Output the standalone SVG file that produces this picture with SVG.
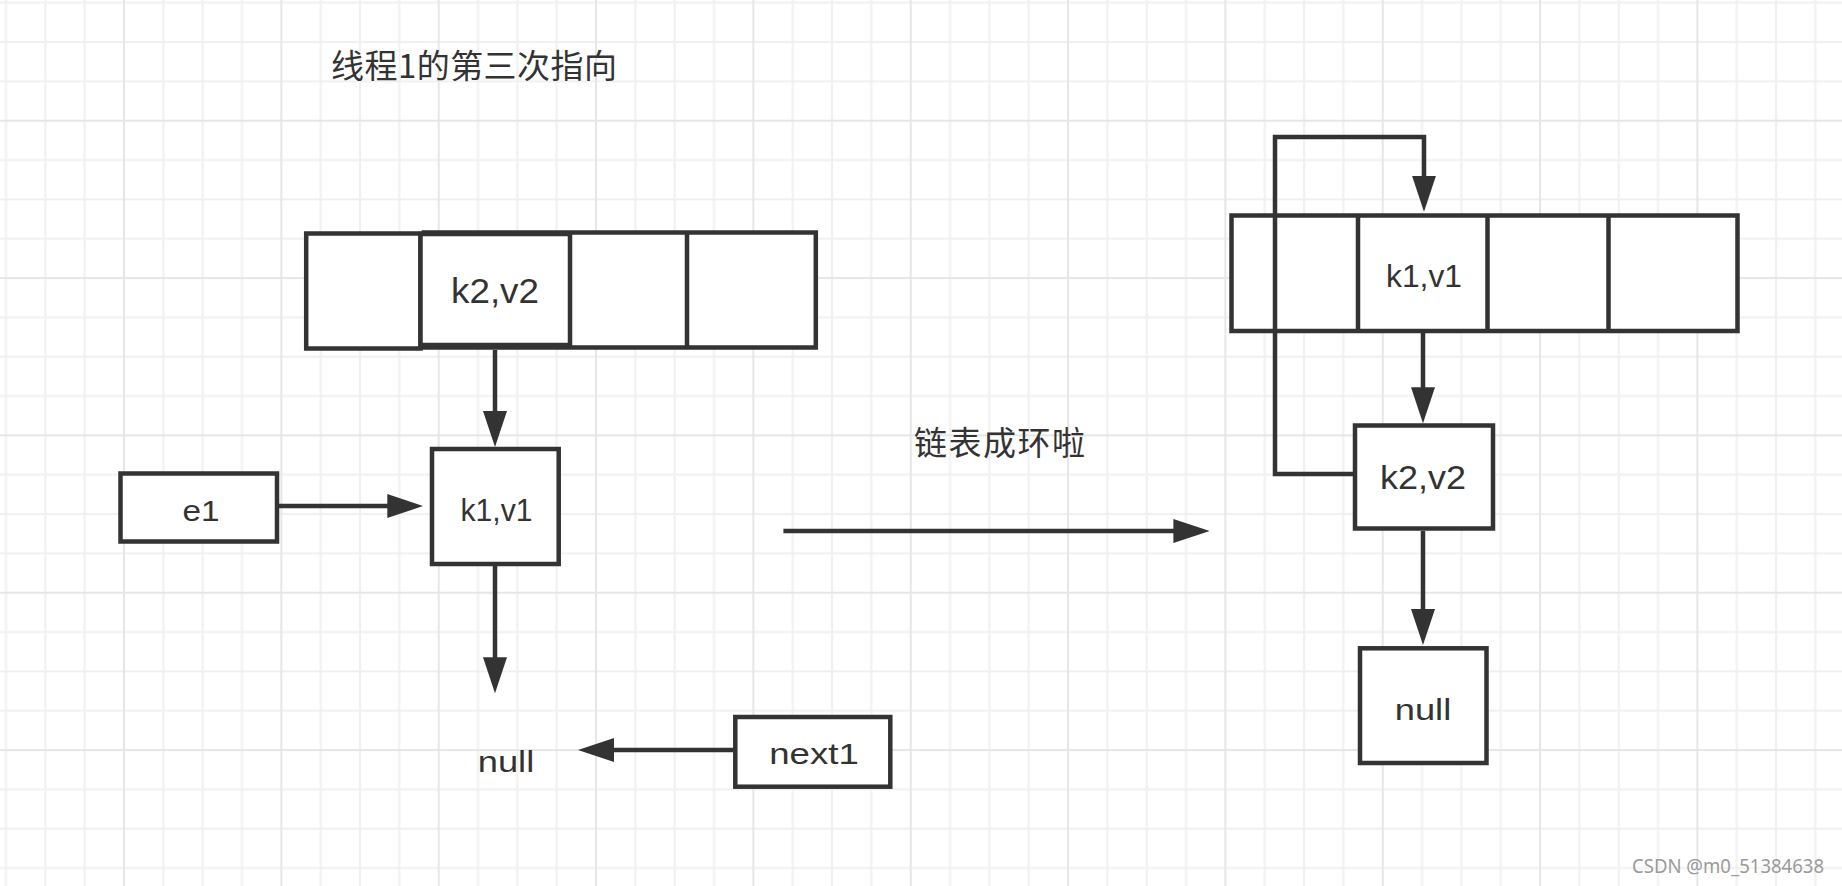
<svg xmlns="http://www.w3.org/2000/svg" width="1842" height="886" viewBox="0 0 1842 886">
  <style>
    .box { fill: #ffffff; stroke: #333333; stroke-width: 4.5; }
    .div { stroke: #333333; stroke-width: 4.5; }
    .lbl { font-family: "Liberation Sans", Arial, Helvetica, sans-serif; fill: #333333; text-anchor: middle; }
    .cjk { font-family: "Noto Sans CJK SC", "Noto Sans", sans-serif; fill: #333333; }
    .conn { fill: none; stroke: #333333; stroke-width: 4.5; stroke-linejoin: miter; }
    .wm { font-family: "Noto Sans", "Open Sans", sans-serif; fill: #9a9a9a; }
  </style>
  <defs>
    <pattern id="grid" patternUnits="userSpaceOnUse" x="-34.34" y="-37.64" width="157.34" height="157.34">
      <rect x="0" y="0" width="157.34" height="157.34" fill="#ffffff"/>
      <g fill="#f0f0f0">
        <rect x="39.33" y="0" width="2" height="157.34"/>
        <rect x="78.67" y="0" width="2" height="157.34"/>
        <rect x="118.0" y="0" width="2" height="157.34"/>
        <rect x="0" y="39.33" width="157.34" height="2"/>
        <rect x="0" y="78.67" width="157.34" height="2"/>
        <rect x="0" y="118.0" width="157.34" height="2"/>
      </g>
      <g fill="#e6e6e6">
        <rect x="0" y="0" width="2" height="157.34"/>
        <rect x="0" y="0" width="157.34" height="2"/>
      </g>
    </pattern>
    <marker id="arr" markerUnits="userSpaceOnUse" viewBox="0 0 36 24" refX="1" refY="12" markerWidth="36" markerHeight="24" orient="auto">
      <path d="M0,0 L36,12 L0,24 Z" fill="#333333"/>
    </marker>
  </defs>

  <rect id="background" x="0" y="0" width="1842" height="886" fill="url(#grid)"/>

  <g id="title">
    <text class="cjk" x="331" y="78" font-size="33" textLength="286">线程1的第三次指向</text>
  </g>

  <g id="left-array">
    <rect class="box" x="424" y="232.5" width="391.8" height="115" stroke-width="5"/>
    <line class="div" x1="687" y1="232.5" x2="687" y2="347.5" stroke-width="5"/>
    <rect class="box" x="306.2" y="233.5" width="114.3" height="115"/>
    <rect class="box" x="420.5" y="234" width="149.5" height="111"/>
    <text class="lbl" x="495" y="303.3" font-size="35" textLength="88" lengthAdjust="spacingAndGlyphs">k2,v2</text>
  </g>

  <g id="node-e1">
    <rect class="box" x="120.5" y="473.5" width="156.5" height="68"/>
    <text class="lbl" x="201" y="521" font-size="30" textLength="37" lengthAdjust="spacingAndGlyphs">e1</text>
  </g>

  <g id="node-k1v1-left">
    <rect class="box" x="432" y="449" width="126.7" height="115"/>
    <text class="lbl" x="496.5" y="521" font-size="30.5" textLength="72" lengthAdjust="spacingAndGlyphs">k1,v1</text>
  </g>

  <g id="node-null-left">
    <text class="lbl" x="506" y="771.7" font-size="30" textLength="56.5" lengthAdjust="spacingAndGlyphs">null</text>
  </g>

  <g id="node-next1">
    <rect class="box" x="735.3" y="717" width="155" height="69.7"/>
    <text class="lbl" x="814" y="764.3" font-size="30" textLength="89.5" lengthAdjust="spacingAndGlyphs">next1</text>
  </g>

  <g id="label-ring">
    <text class="cjk" x="914" y="454.5" font-size="33" textLength="171">链表成环啦</text>
  </g>

  <g id="right-array">
    <rect class="box" x="1231.5" y="215.5" width="506" height="115.5" stroke-width="5"/>
    <line class="div" x1="1358" y1="215.5" x2="1358" y2="331" stroke-width="5"/>
    <line class="div" x1="1487.5" y1="215.5" x2="1487.5" y2="331" stroke-width="5"/>
    <line class="div" x1="1608.5" y1="215.5" x2="1608.5" y2="331" stroke-width="5"/>
    <text class="lbl" x="1424" y="286.7" font-size="32" textLength="76" lengthAdjust="spacingAndGlyphs">k1,v1</text>
  </g>

  <g id="node-k2v2-right">
    <rect class="box" x="1355" y="425.5" width="138" height="103"/>
    <text class="lbl" x="1423" y="489.3" font-size="32.5" textLength="86" lengthAdjust="spacingAndGlyphs">k2,v2</text>
  </g>

  <g id="node-null-right">
    <rect class="box" x="1360" y="648.3" width="126.5" height="114.7"/>
    <text class="lbl" x="1423" y="720" font-size="30" textLength="56.5" lengthAdjust="spacingAndGlyphs">null</text>
  </g>

  <g id="connectors">
    <path class="conn" d="M495,350 V412" marker-end="url(#arr)"/>
    <path class="conn" d="M279,506 H388.3" marker-end="url(#arr)"/>
    <path class="conn" d="M495,566 V658.3" marker-end="url(#arr)"/>
    <path class="conn" d="M733,750 H613" marker-end="url(#arr)"/>
    <path class="conn" d="M783.4,531 H1174.4" marker-end="url(#arr)"/>
    <path class="conn" d="M1353,474 H1275 V137 H1424 V176.7" marker-end="url(#arr)"/>
    <path class="conn" d="M1423,333 V388.3" marker-end="url(#arr)"/>
    <path class="conn" d="M1423,531 V610" marker-end="url(#arr)"/>
  </g>

  <g id="watermark">
    <text class="wm" x="1632" y="872.5" font-size="20" textLength="192" lengthAdjust="spacingAndGlyphs">CSDN @m0_51384638</text>
  </g>
</svg>
